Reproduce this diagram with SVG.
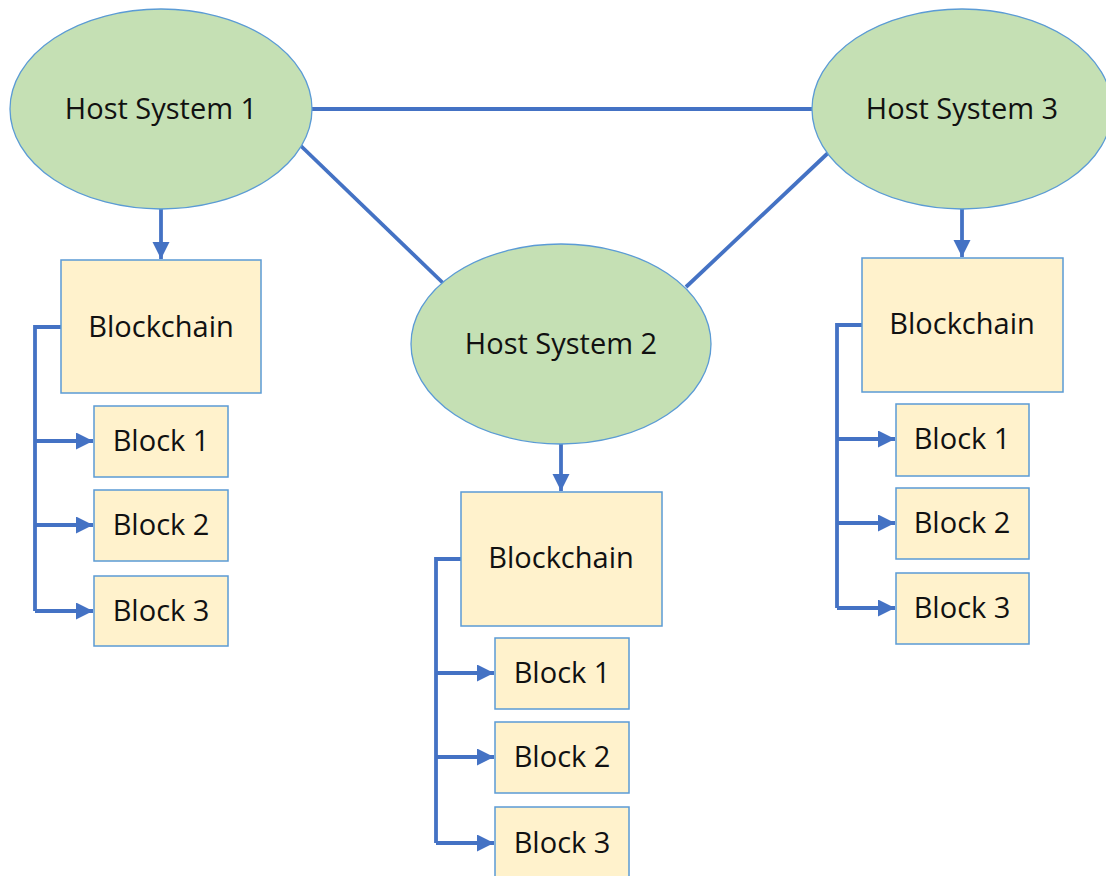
<svg xmlns="http://www.w3.org/2000/svg" width="1106" height="876" viewBox="0 0 1106 876">
<style>
.host{fill:#C5E0B4;stroke:#5B9BD5;stroke-width:1.3}
.box{fill:#FFF2CC;stroke:#5B9BD5;stroke-width:1.5}
.lbl{font-family:"Open Sans","Liberation Sans",sans-serif;font-size:29px;fill:#111;text-anchor:middle}
.con{fill:none;stroke:#4472C4;stroke-width:3.8}
</style>
<defs>
<marker id="ah" markerUnits="userSpaceOnUse" markerWidth="18" markerHeight="18" refX="17" refY="8.5" orient="auto">
<path d="M0,0 L17,8.5 L0,17 z" fill="#4472C4"/>
</marker>
</defs>
<rect width="1106" height="876" fill="#fff"/>
<g id="connectors">
<path class="con" d="M312,109 L812,109"/>
<path class="con" d="M301,146 L443,283"/>
<path class="con" d="M828,153 L686,287"/>
<path class="con" d="M161,209 L161,259" marker-end="url(#ah)"/>
<path class="con" d="M561,444 L561,491" marker-end="url(#ah)"/>
<path class="con" d="M962,209 L962,257" marker-end="url(#ah)"/>
<path class="con" d="M61,327 L35,327 L35,611"/>
<path class="con" d="M35,441 L93,441" marker-end="url(#ah)"/>
<path class="con" d="M35,525 L93,525" marker-end="url(#ah)"/>
<path class="con" d="M35,611 L93,611" marker-end="url(#ah)"/>
<path class="con" d="M461,559 L436,559 L436,843"/>
<path class="con" d="M436,673 L494,673" marker-end="url(#ah)"/>
<path class="con" d="M436,757 L494,757" marker-end="url(#ah)"/>
<path class="con" d="M436,843 L494,843" marker-end="url(#ah)"/>
<path class="con" d="M862,325 L837,325 L837,608"/>
<path class="con" d="M837,439 L895,439" marker-end="url(#ah)"/>
<path class="con" d="M837,523 L895,523" marker-end="url(#ah)"/>
<path class="con" d="M837,608 L895,608" marker-end="url(#ah)"/>
</g>
<g id="host1"><ellipse class="host" cx="161" cy="109" rx="151" ry="100"/><text class="lbl" x="161" y="119">Host System 1</text></g>
<g id="host2"><ellipse class="host" cx="561" cy="344" rx="150" ry="100"/><text class="lbl" x="561" y="354">Host System 2</text></g>
<g id="host3"><ellipse class="host" cx="962" cy="109" rx="150" ry="100"/><text class="lbl" x="962" y="119">Host System 3</text></g>
<g id="chain1"><rect class="box" x="61" y="260" width="200" height="133"/><text class="lbl" x="161" y="337">Blockchain</text></g>
<g id="c1b1"><rect class="box" x="94" y="406" width="134" height="71"/><text class="lbl" x="161" y="451">Block 1</text></g>
<g id="c1b2"><rect class="box" x="94" y="490" width="134" height="71"/><text class="lbl" x="161" y="535">Block 2</text></g>
<g id="c1b3"><rect class="box" x="94" y="576" width="134" height="70"/><text class="lbl" x="161" y="621">Block 3</text></g>
<g id="chain2"><rect class="box" x="461" y="492" width="201" height="134"/><text class="lbl" x="561" y="568">Blockchain</text></g>
<g id="c2b1"><rect class="box" x="495" y="638" width="134" height="71"/><text class="lbl" x="562" y="683">Block 1</text></g>
<g id="c2b2"><rect class="box" x="495" y="722" width="134" height="71"/><text class="lbl" x="562" y="767">Block 2</text></g>
<g id="c2b3"><rect class="box" x="495" y="807" width="134" height="72"/><text class="lbl" x="562" y="853">Block 3</text></g>
<g id="chain3"><rect class="box" x="862" y="258" width="201" height="134"/><text class="lbl" x="962" y="334">Blockchain</text></g>
<g id="c3b1"><rect class="box" x="896" y="404" width="133" height="72"/><text class="lbl" x="962" y="449">Block 1</text></g>
<g id="c3b2"><rect class="box" x="896" y="488" width="133" height="71"/><text class="lbl" x="962" y="533">Block 2</text></g>
<g id="c3b3"><rect class="box" x="896" y="573" width="133" height="71"/><text class="lbl" x="962" y="618">Block 3</text></g>
</svg>
